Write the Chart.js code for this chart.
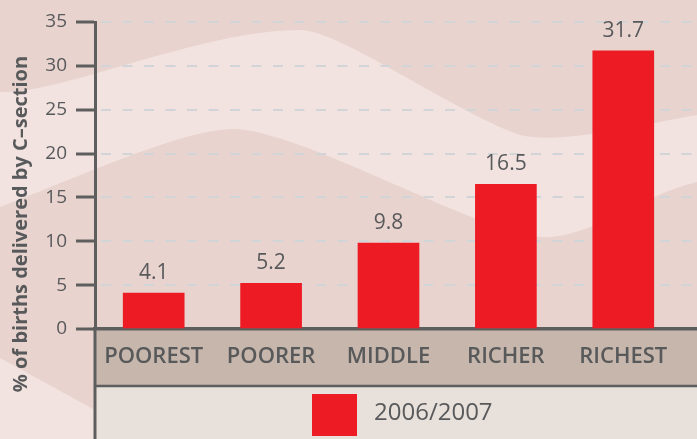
<!DOCTYPE html>
<html>
<head>
<meta charset="utf-8">
<script src="https://cdn.jsdelivr.net/npm/chart.js@4.4.0/dist/chart.umd.min.js"></script>
<style>
  html, body { margin: 0; padding: 0; background: #e8d3ce; }
  #wrap { width: 697px; height: 439px; }
</style>
</head>
<body>
<div id="wrap"><canvas id="Csection_Chart" width="697" height="439"></canvas></div>
<script>
const categories = ['POOREST', 'POORER', 'MIDDLE', 'RICHER', 'RICHEST'];
const csectionRates = [4.1, 5.2, 9.8, 16.5, 31.7]; // % of births, by wealth quintile
const seriesLabel = '2006/2007';
const yMin = 0;
const yMax = 35;
const yStep = 5;

const textGrey = '#58595b';
const axisGrey = '#5e5e5e';
const barRed = '#ed1c24';

Chart.defaults.font.family = "'Open Sans', sans-serif";
Chart.defaults.color = textGrey;

// wavy pink background, label band and legend band
const backdrop = {
    id: 'backdrop',
    beforeDraw(chart) {
        const {ctx, chartArea: a, width, height} = chart;
        ctx.save();
        ctx.fillStyle = '#e8d3ce';
        ctx.fillRect(0, 0, width, height);

        ctx.fillStyle = '#f2e3e0';
        ctx.beginPath();
        ctx.moveTo(0, 92);
        ctx.bezierCurveTo(60, 95, 200, 30, 300, 30);
        ctx.bezierCurveTo(340, 30, 450, 110, 520, 135);
        ctx.bezierCurveTo(560, 145, 640, 125, 697, 115);
        ctx.lineTo(697, 182);
        ctx.bezierCurveTo(640, 195, 590, 240, 540, 237);
        ctx.bezierCurveTo(480, 234, 300, 129, 233, 129);
        ctx.bezierCurveTo(180, 129, 60, 185, 0, 207);
        ctx.closePath();
        ctx.fill();

        ctx.beginPath();
        ctx.moveTo(0, 358);
        ctx.lineTo(95, 410);
        ctx.lineTo(150, 439);
        ctx.lineTo(0, 439);
        ctx.closePath();
        ctx.fill();

        ctx.fillStyle = '#c7b6ab';
        ctx.fillRect(a.left, a.bottom, width - a.left, 57);
        ctx.fillStyle = '#e8e0db';
        ctx.fillRect(a.left, a.bottom + 57, width - a.left, height - a.bottom - 57);
        ctx.restore();
    },
    afterDatasetsDraw(chart) {
        const {ctx} = chart;
        const meta = chart.getDatasetMeta(0);
        ctx.save();
        ctx.font = "21px 'Open Sans', sans-serif";
        ctx.fillStyle = textGrey;
        ctx.textAlign = 'center';
        ctx.textBaseline = 'alphabetic';
        meta.data.forEach((bar, i) => {
            ctx.fillText(String(csectionRates[i]), bar.x, bar.y - 14);
        });
        ctx.restore();
    },
    afterDraw(chart) {
        const {ctx, chartArea: a, width, height} = chart;
        ctx.save();
        ctx.strokeStyle = axisGrey;
        // y axis runs down through the bands
        ctx.lineWidth = 3;
        ctx.beginPath();
        ctx.moveTo(a.left, a.bottom);
        ctx.lineTo(a.left, height);
        ctx.stroke();
        // divider between label band and legend band
        ctx.lineWidth = 2.5;
        ctx.beginPath();
        ctx.moveTo(a.left, a.bottom + 57);
        ctx.lineTo(width, a.bottom + 57);
        ctx.stroke();

        // legend
        ctx.fillStyle = barRed;
        ctx.fillRect(312, 394, 45, 42);
        ctx.fillStyle = textGrey;
        ctx.font = "24px 'Open Sans', sans-serif";
        ctx.textAlign = 'left';
        ctx.textBaseline = 'middle';
        ctx.fillText(chart.data.datasets[0].label, 374, 413);

        // y axis title
        ctx.translate(21, 224);
        ctx.rotate(-Math.PI / 2);
        ctx.font = "bold 20px 'Open Sans', sans-serif";
        ctx.textAlign = 'center';
        ctx.fillText('% of births delivered by C\u2013section', 0, 0);
        ctx.restore();
    }
};

const ctxCsection = document.getElementById('Csection_Chart').getContext('2d');
new Chart(ctxCsection, {
    type: 'bar',
    data: {
        datasets: [{
            label: seriesLabel,
            data: csectionRates.map((v, i) => ({x: i, y: v})),
            backgroundColor: barRed,
            borderWidth: 0,
            barThickness: 61
        }]
    },
    options: {
        responsive: false,
        animation: false,
        devicePixelRatio: 1,
        layout: {
            padding: {top: 22, left: 0, right: 0, bottom: 0}
        },
        plugins: {
            legend: {display: false},
            tooltip: {enabled: false}
        },
        scales: {
            x: {
                type: 'linear',
                offset: false,
                min: -0.5,
                max: 4.628,
                afterFit: (scale) => { scale.height = 110; },
                afterBuildTicks: (scale) => {
                    scale.ticks = categories.map((c, i) => ({value: i}));
                },
                grid: {display: false, offset: false},
                border: {display: true, color: axisGrey, width: 3.5},
                ticks: {
                    autoSkip: false,
                    maxRotation: 0,
                    padding: 7,
                    color: textGrey,
                    font: {size: 22, weight: 600},
                    callback: (v) => categories[v]
                }
            },
            y: {
                min: yMin,
                max: yMax,
                afterFit: (scale) => { scale.width = 95; },
                ticks: {
                    stepSize: yStep,
                    padding: 9,
                    color: textGrey,
                    font: {size: 19}
                },
                grid: {
                    color: '#d2d5d7',
                    lineWidth: 2,
                    tickLength: 19,
                    tickColor: axisGrey,
                    tickWidth: 3
                },
                border: {display: true, color: axisGrey, width: 3, dash: [10, 11.5], dashOffset: -4}
            }
        }
    },
    plugins: [backdrop]
});
</script>
</body>
</html>
